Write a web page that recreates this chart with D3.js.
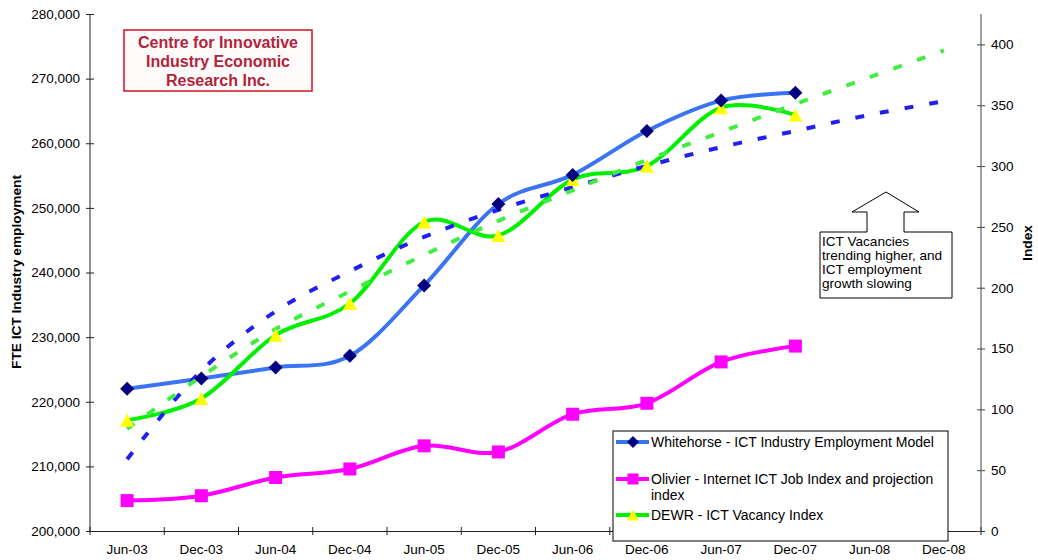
<!DOCTYPE html>
<html>
<head>
<meta charset="utf-8">
<script src="https://cdn.jsdelivr.net/npm/d3@7/dist/d3.min.js"></script>
<style>
  body { margin: 0; background: #fff; }
  text { font-family: "Liberation Sans", Arial, sans-serif; }
</style>
</head>
<body>
<div id="my_dataviz"></div>
<script>
// chart data
var categories = ["Jun-03", "Dec-03", "Jun-04", "Dec-04", "Jun-05", "Dec-05",
                  "Jun-06", "Dec-06", "Jun-07", "Dec-07", "Jun-08", "Dec-08"];
var whitehorse = [222000, 223600, 225300, 227100, 238000, 250600, 255100, 261900, 266600, 267800];
var olivier = [25, 29, 44, 51, 70, 65, 96, 105, 139, 152];
var dewr = [91, 109, 161, 187, 254, 243, 289, 300, 348, 342];
// dashed trend lines
var whitehorseTrend = [211100, 224800, 234000, 240200, 245500, 249700, 253200, 256500, 259400, 261900, 264400, 266500];
var dewrTrend = [84, 127, 166, 197, 227, 255, 280, 305, 328, 351, 373, 395];
var leftTicks = [200000, 210000, 220000, 230000, 240000, 250000, 260000, 270000, 280000];
var rightTicks = [0, 50, 100, 150, 200, 250, 300, 350, 400];
var legendLabels = ["Whitehorse - ICT Industry Employment Model",
                    "Olivier - Internet ICT Job Index and projection|index",
                    "DEWR - ICT Vacancy Index"];
var logoLines = ["Centre for Innovative", "Industry Economic", "Research Inc."];
var noteLines = ["ICT Vacancies", "trending higher, and", "ICT employment", "growth slowing"];

var width = 1038, height = 560;
var plot = {left: 90, right: 981, top: 14, bottom: 531};

var svg = d3.select("#my_dataviz")
  .append("svg")
    .attr("width", width)
    .attr("height", height);

// scales
var x = d3.scaleBand()
  .domain(categories)
  .range([plot.left, plot.right]);
var cx = function(i) { return x(categories[i]) + x.bandwidth() / 2; };

var yLeft = d3.scaleLinear()
  .domain([200000, 280000])
  .range([plot.bottom, plot.top]);
var yRight = d3.scaleLinear()
  .domain([0, 425])
  .range([plot.bottom, plot.top]);

// axes
var axisColor = "#222";
var gx = svg.append("g")
  .attr("transform", "translate(0," + plot.bottom + ")")
  .call(d3.axisBottom(x).tickSize(0).tickPadding(13));
gx.select(".domain").attr("stroke", axisColor);
gx.selectAll("text").style("font-size", "13.5px").attr("fill", "#000");
// category boundary ticks
var bounds = categories.map(function(c) { return x(c); }).concat([plot.right]);
svg.append("g").selectAll("line")
  .data(bounds)
  .enter()
  .append("line")
    .attr("x1", d => d).attr("x2", d => d)
    .attr("y1", plot.bottom - 4).attr("y2", plot.bottom + 4)
    .attr("stroke", axisColor);

var gl = svg.append("g")
  .attr("transform", "translate(" + plot.left + ",0)")
  .call(d3.axisLeft(yLeft).tickValues(leftTicks).tickFormat(d3.format(",")).tickSize(4).tickPadding(6));
gl.select(".domain").attr("d", "M0," + plot.top + "V" + plot.bottom).attr("stroke", axisColor);
gl.selectAll(".tick line").attr("x1", 4).attr("stroke", axisColor);
gl.selectAll("text").style("font-size", "13.5px").attr("fill", "#000");

var gr = svg.append("g")
  .attr("transform", "translate(" + plot.right + ",0)")
  .call(d3.axisRight(yRight).tickValues(rightTicks).tickSize(4).tickPadding(6));
gr.select(".domain").attr("d", "M0," + plot.top + "V" + plot.bottom).attr("stroke", "#444");
gr.selectAll(".tick line").attr("x1", -4).attr("stroke", "#444");
gr.selectAll("text").style("font-size", "13.5px").attr("fill", "#000");

// axis titles
svg.append("text")
  .attr("transform", "translate(21,272) rotate(-90)")
  .attr("text-anchor", "middle")
  .style("font-size", "13.7px")
  .style("font-weight", "bold")
  .text("FTE ICT Industry employment");
svg.append("text")
  .attr("transform", "translate(1032,243) rotate(-90)")
  .attr("text-anchor", "middle")
  .style("font-size", "13.7px")
  .style("font-weight", "bold")
  .text("Index");

// smoothed series lines
var smooth = d3.curveCardinal.tension(0);
function lineFor(scale) {
  return d3.line()
    .x((d, i) => cx(i))
    .y(d => scale(d))
    .curve(smooth);
}

svg.append("path")
  .datum(whitehorse)
  .attr("d", lineFor(yLeft))
  .attr("fill", "none").attr("stroke", "#3b74f2").attr("stroke-width", 4);
svg.append("path")
  .datum(olivier)
  .attr("d", lineFor(yRight))
  .attr("fill", "none").attr("stroke", "#ff00ff").attr("stroke-width", 4);
svg.append("path")
  .datum(dewr)
  .attr("d", lineFor(yRight))
  .attr("fill", "none").attr("stroke", "#00f000").attr("stroke-width", 4);

// trend lines
svg.append("path")
  .datum(whitehorseTrend)
  .attr("d", d3.line().x((d, i) => cx(i)).y(d => yLeft(d)).curve(d3.curveCatmullRom))
  .attr("fill", "none").attr("stroke", "#2020f0").attr("stroke-width", 4)
  .attr("stroke-dasharray", "9,16");
svg.append("path")
  .datum(dewrTrend)
  .attr("d", d3.line().x((d, i) => cx(i)).y(d => yRight(d)).curve(d3.curveCatmullRom))
  .attr("fill", "none").attr("stroke", "#40ee40").attr("stroke-width", 4)
  .attr("stroke-dasharray", "9,16");

// markers
var diamond = "M0,-7L7,0L0,7L-7,0Z";
var square = "M-6.5,-6.5H6.5V6.5H-6.5Z";
var triangle = "M0,-6.5L7,6.5L-7,6.5Z";

svg.append("g").selectAll("path")
  .data(olivier).enter().append("path")
    .attr("d", square)
    .attr("transform", (d, i) => "translate(" + cx(i) + "," + yRight(d) + ")")
    .attr("fill", "#ff00ff");
svg.append("g").selectAll("path")
  .data(dewr).enter().append("path")
    .attr("d", triangle)
    .attr("transform", (d, i) => "translate(" + cx(i) + "," + yRight(d) + ")")
    .attr("fill", "#ffff00");
svg.append("g").selectAll("path")
  .data(whitehorse).enter().append("path")
    .attr("d", diamond)
    .attr("transform", (d, i) => "translate(" + cx(i) + "," + yLeft(d) + ")")
    .attr("fill", "#000080");

// logo box
svg.append("rect")
  .attr("x", 124).attr("y", 30).attr("width", 188).attr("height", 61)
  .attr("fill", "#fffafa").attr("stroke", "#d01020").attr("stroke-width", 1.5);
svg.append("g").selectAll("text")
  .data(logoLines).enter().append("text")
    .attr("x", 218)
    .attr("y", (d, i) => 48 + i * 19)
    .attr("text-anchor", "middle")
    .style("font-size", "16px")
    .style("font-weight", "bold")
    .attr("fill", "#b0243c")
    .text(d => d);

// arrow callout
svg.append("path")
  .attr("d", "M820,232H867V212H852L886,192L919,212H904V232H952V298H820Z")
  .attr("fill", "#fff").attr("stroke", "#000").attr("stroke-width", 1);
svg.append("g").selectAll("text")
  .data(noteLines).enter().append("text")
    .attr("x", 822)
    .attr("y", (d, i) => 246 + i * 14)
    .style("font-size", "13.6px")
    .text(d => d);

// legend
var legend = svg.append("g");
legend.append("rect")
  .attr("x", 613).attr("y", 431).attr("width", 335).attr("height", 110)
  .attr("fill", "#fff").attr("stroke", "#000").attr("stroke-width", 1);
var legendColors = ["#3b74f2", "#ff00ff", "#00f000"];
var legendMarks = [diamond, square, triangle];
var legendFills = ["#000080", "#ff00ff", "#ffff00"];
var legendY = [442, 479, 515];
legendLabels.forEach(function(label, i) {
  legend.append("line")
    .attr("x1", 616).attr("x2", 649)
    .attr("y1", legendY[i]).attr("y2", legendY[i])
    .attr("stroke", legendColors[i]).attr("stroke-width", 4);
  legend.append("path")
    .attr("d", legendMarks[i])
    .attr("transform", "translate(633," + legendY[i] + ") scale(0.85)")
    .attr("fill", legendFills[i]);
  label.split("|").forEach(function(part, j) {
    legend.append("text")
      .attr("x", 651)
      .attr("y", legendY[i] + 5 + j * 16)
      .style("font-size", "14px")
      .text(part);
  });
});
</script>
</body>
</html>
